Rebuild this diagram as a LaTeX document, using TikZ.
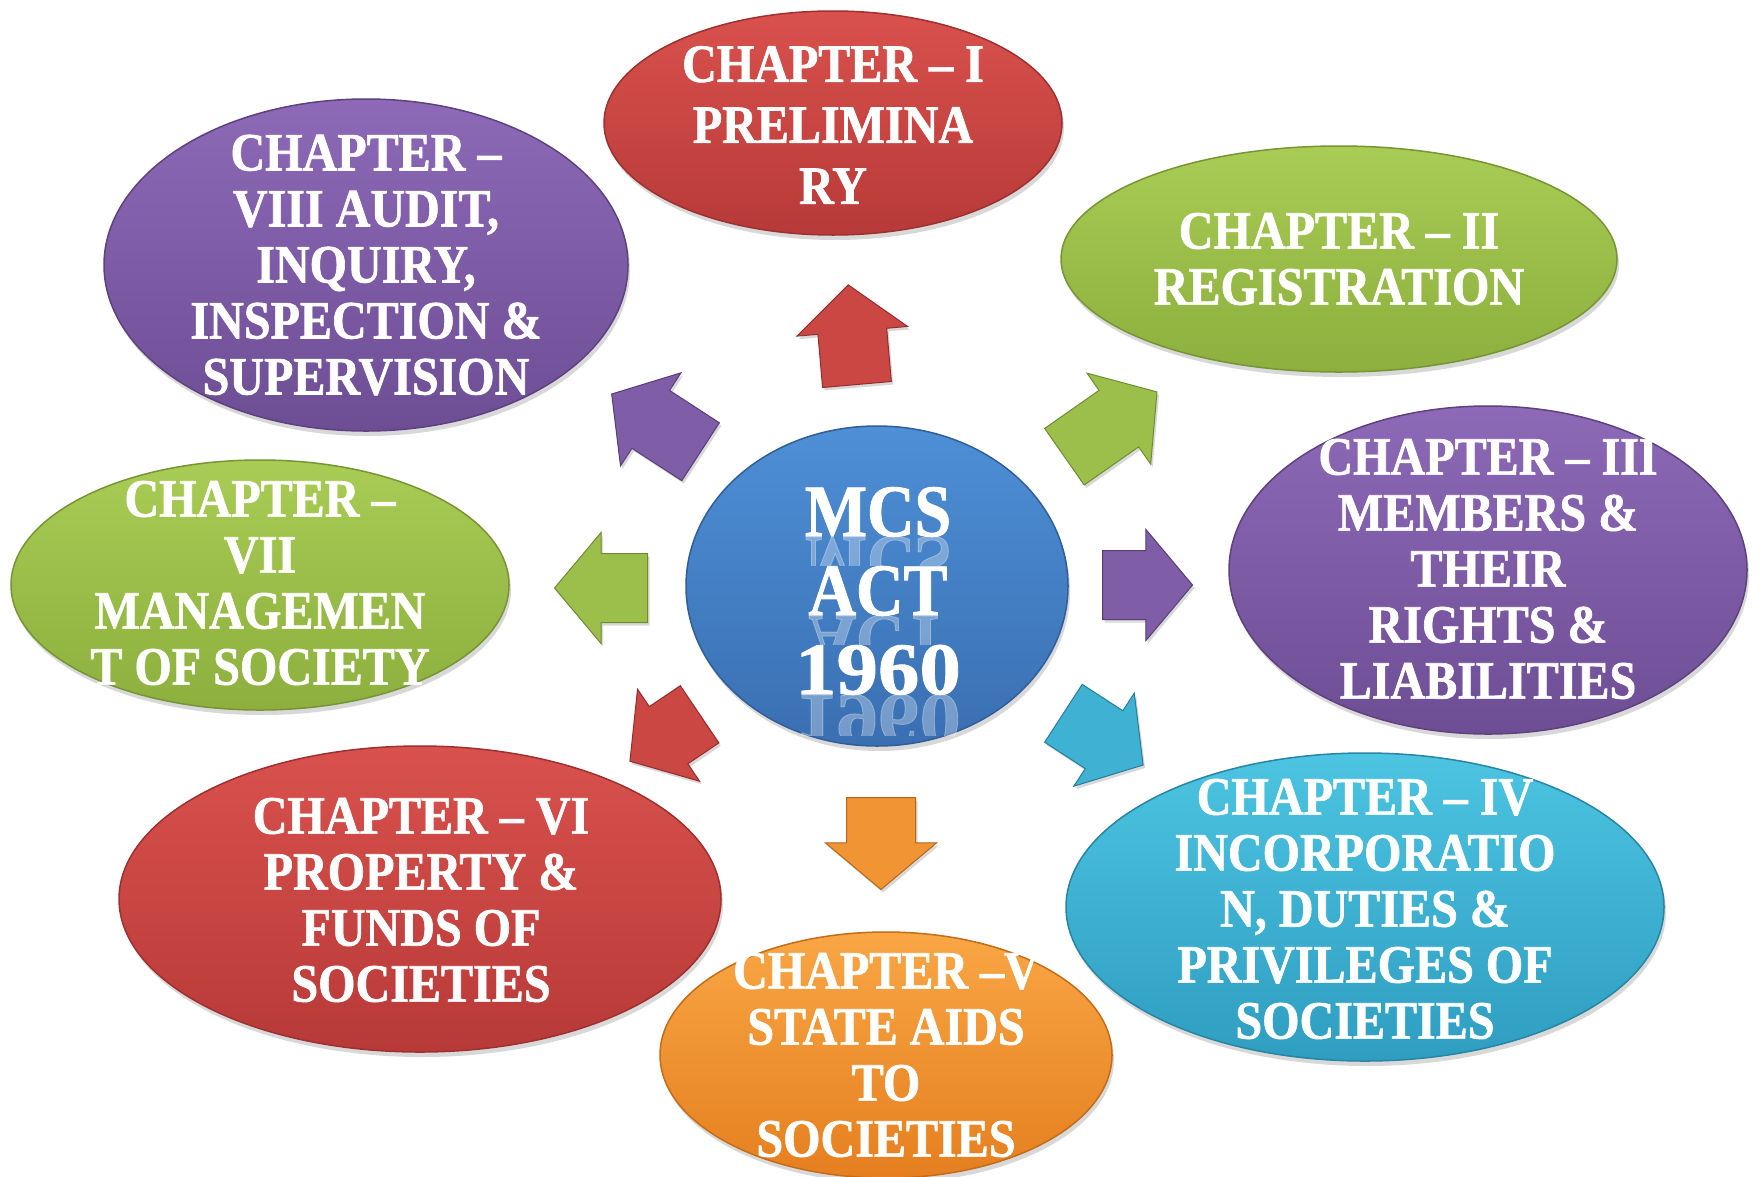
\documentclass[tikz,border=0pt]{standalone}
\usepackage{fontspec}
\setmainfont{Liberation Serif}[FakeStretch=0.89, BoldFeatures={FakeBold=1.2}]
\newfontfamily\widefont{Liberation Serif}[FakeStretch=1.12, BoldFeatures={FakeBold=1.2}]
\usetikzlibrary{shapes.geometric,shapes.arrows,shadows}

\definecolor{redT}{HTML}{D9514D}\definecolor{redB}{HTML}{B73A38}
\definecolor{grnT}{HTML}{A9CC55}\definecolor{grnB}{HTML}{8CAF3E}
\definecolor{purT}{HTML}{8D69B7}\definecolor{purB}{HTML}{6D4E94}
\definecolor{cyaT}{HTML}{4CC4E2}\definecolor{cyaB}{HTML}{2F9DC0}
\definecolor{ornT}{HTML}{F9A645}\definecolor{ornB}{HTML}{E57F1F}
\definecolor{bluT}{HTML}{4E8FD6}\definecolor{bluB}{HTML}{3A6FB2}

\begin{document}
\begin{tikzpicture}[x=1pt,y=-1pt,
  bubble/.style={ellipse, inner sep=0pt, draw=#1B!85!black, line width=1.5pt,
    top color=#1T, bottom color=#1B,
    drop shadow={shadow xshift=2pt, shadow yshift=-5pt, opacity=0.3}},
  blockarrow/.style={single arrow, inner xsep=0pt, inner ysep=34pt,
    single arrow head extend=21pt, single arrow tip angle=100,
    draw=#1B!80!black, line width=1pt, fill=#1T!55!#1B, anchor=tail,
    drop shadow={shadow xshift=2pt, shadow yshift=-3pt, opacity=0.3}},
  txt/.style={text=white, font=\bfseries\fontsize{54}{56}\selectfont, align=center, inner sep=0pt},
  bigtxt/.style={text=white, font=\bfseries\fontsize{74}{79}\selectfont, align=center, inner sep=0pt},
  refl/.style={text=white, opacity=0.3, font=\bfseries\fontsize{74}{79}\selectfont, inner sep=0pt, anchor=base, yscale=-1}
]
\fill[white] (0,0) rectangle (1760,1176);
\useasboundingbox (0,0) rectangle (1760,1176);

% ellipses
\node[bubble=red, minimum width=458pt, minimum height=224pt] (e1) at (833,123) {};
\node[bubble=grn, minimum width=556pt, minimum height=226pt] (e2) at (1339,259) {};
\node[bubble=pur, minimum width=518pt, minimum height=328pt] (e3) at (1488,570) {};
\node[bubble=cya, minimum width=598pt, minimum height=308pt] (e4) at (1365,907) {};
\node[bubble=orn, minimum width=452pt, minimum height=246pt] (e5) at (886,1055) {};
\node[bubble=red, minimum width=602pt, minimum height=306pt] (e6) at (420,899) {};
\node[bubble=grn, minimum width=498pt, minimum height=250pt] (e7) at (260,585) {};
\node[bubble=pur, minimum width=524pt, minimum height=332pt] (e8) at (366,265) {};
\node[bubble=blu, minimum width=382pt, minimum height=320pt] (ec) at (877,586) {};

% arrows
\node[blockarrow=red, minimum height=100pt, rotate=95]   (a1) at (857,385) {};
\node[blockarrow=pur, minimum height=106pt, rotate=147]  (a2) at (701,452) {};
\node[blockarrow=grn, minimum height=113pt, rotate=35]   (a3) at (1064,457) {};
\node[blockarrow=pur, minimum height=90pt,  rotate=0]    (a4) at (1102,585) {};
\node[blockarrow=cya, minimum height=95pt,  rotate=-33]  (a5) at (1063,713) {};
\node[blockarrow=orn, minimum height=92pt,  rotate=-90]  (a6) at (881,797) {};
\node[blockarrow=red, minimum height=84pt,  rotate=-146] (a7) at (700,714) {};
\node[blockarrow=grn, minimum height=93pt,  rotate=180]  (a8) at (648,588) {};

% reflections in the centre
\begin{scope}
  \clip (740,537) rectangle (1020,565);
  \node[refl] (r1) at (878,537) {MCS};
\end{scope}
\begin{scope}
  \clip (740,616) rectangle (1020,644);
  \node[refl] (r2) at (878,616) {ACT};
\end{scope}
\begin{scope}
  \clip (740,695) rectangle (1020,735);
  \node[refl] (r3) at (878,695) {\widefont 1960};
\end{scope}

% texts
\node[txt, font=\bfseries\fontsize{54}{61}\selectfont] (t1) at (833,125) {CHAPTER – I\\PRELIMINA\\RY};
\node[txt] (t2) at (1339,259) {CHAPTER – II\\REGISTRATION};
\node[txt] (t3) at (1488,569) {CHAPTER – III\\MEMBERS \&\\THEIR\\RIGHTS \&\\LIABILITIES};
\node[txt] (t4) at (1365,909) {CHAPTER – IV\\INCORPORATIO\\N, DUTIES \&\\PRIVILEGES OF\\SOCIETIES};
\node[txt] (t5) at (886,1055) {CHAPTER –V\\STATE AIDS\\TO\\SOCIETIES};
\node[txt] (t6) at (421,900) {CHAPTER – VI\\PROPERTY \&\\FUNDS OF\\SOCIETIES};
\node[txt] (t7) at (260,583) {CHAPTER –\\VII\\MANAGEMEN\\T OF SOCIETY};
\node[txt] (t8) at (366,265) {CHAPTER –\\VIII AUDIT,\\INQUIRY,\\INSPECTION \&\\SUPERVISION};
\node[bigtxt] (tc) at (878,591) {MCS\\ACT\\{\widefont 1960}};
\end{tikzpicture}
\end{document}
